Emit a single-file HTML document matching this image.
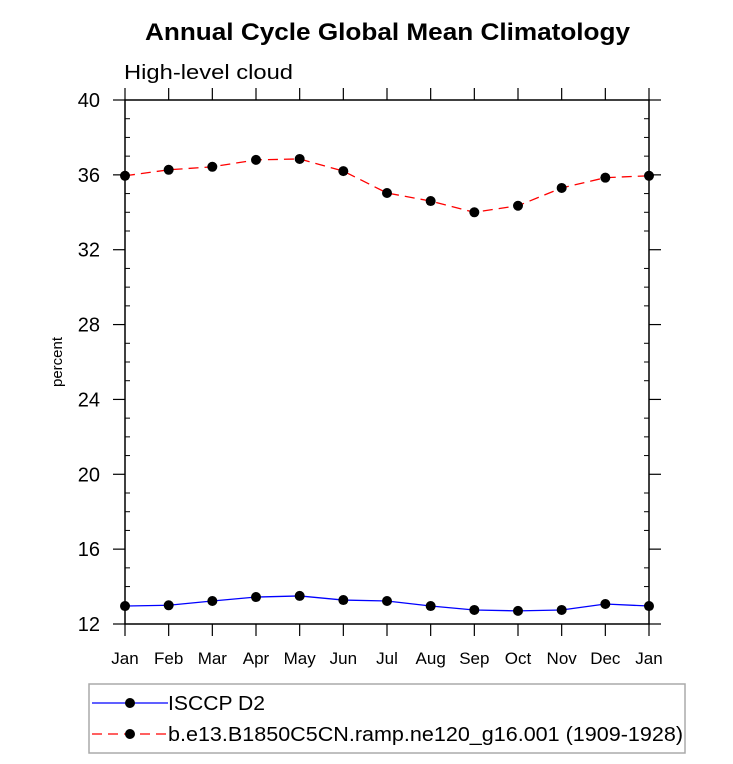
<!DOCTYPE html>
<html><head><meta charset="utf-8"><style>
body{margin:0;background:#fff;}
svg text{font-family:"Liberation Sans",sans-serif;}
</style></head><body>
<svg id="chart" width="733" height="759" xmlns="http://www.w3.org/2000/svg">
<text x="145" y="40" font-size="24" font-weight="bold" textLength="485" lengthAdjust="spacingAndGlyphs">Annual Cycle Global Mean Climatology</text>
<text x="124" y="79" font-size="20" textLength="169" lengthAdjust="spacingAndGlyphs">High-level cloud</text>
<text transform="translate(62,362) rotate(-90)" text-anchor="middle" font-size="15">percent</text>
<g id="axes"></g>
<g id="series"></g>
<g>
<rect x="89" y="684" width="596" height="69" fill="none" stroke="#aaa" stroke-width="1.5"/>
<g>
<line x1="92" y1="703" x2="168" y2="703" stroke="#0000ff" stroke-width="1.3"/>
<circle cx="130" cy="703" r="5" fill="#000"/>
<text x="168" y="710" font-size="20" textLength="97" lengthAdjust="spacingAndGlyphs">ISCCP D2</text></g>
<g>
<line x1="92" y1="734" x2="168" y2="734" stroke="#ff0000" stroke-width="1.3" stroke-dasharray="10,6"/>
<circle cx="130" cy="734" r="5" fill="#000"/>
<text x="168" y="741" font-size="20" textLength="515" lengthAdjust="spacingAndGlyphs">b.e13.B1850C5CN.ramp.ne120_g16.001 (1909-1928)</text></g>
</g>
</svg>
<script>
const months=["Jan","Feb","Mar","Apr","May","Jun","Jul","Aug","Sep","Oct","Nov","Dec","Jan"];
const isccp=[12.96,13.0,13.23,13.44,13.5,13.28,13.23,12.96,12.75,12.7,12.75,13.07,12.96];
const model=[35.95,36.27,36.43,36.8,36.85,36.2,35.03,34.6,34.0,34.35,35.3,35.85,35.95];
const yTicks=[12,16,20,24,28,32,36,40];
const NS="http://www.w3.org/2000/svg";
const L=125,R=649,T=100,B=624,yMin=12,yMax=40;
const xs=i=>L+(R-L)*i/(months.length-1);
const ys=v=>B-(B-T)*(v-yMin)/(yMax-yMin);
function mk(tag,attrs,parent){const e=document.createElementNS(NS,tag);for(const k in attrs)e.setAttribute(k,attrs[k]);parent.appendChild(e);return e;}
const ax=document.getElementById('axes');
const frame=mk('rect',{x:L,y:T,width:R-L,height:B-T,fill:'none',stroke:'#000','stroke-width':1.5},ax);


for(let v=yMin;v<=yMax;v++){
  const y=ys(v);
  if(v%4===0){
    mk('line',{x1:L-12,y1:y,x2:L,y2:y,stroke:'#000','stroke-width':1.2},ax);
    mk('line',{x1:R,y1:y,x2:R+12,y2:y,stroke:'#000','stroke-width':1.2},ax);
  }else{
    mk('line',{x1:L,y1:y,x2:L+5,y2:y,stroke:'#000','stroke-width':1},ax);
    mk('line',{x1:R-5,y1:y,x2:R,y2:y,stroke:'#000','stroke-width':1},ax);
  }
}
yTicks.forEach(v=>{
  const t=mk('text',{x:L-25,y:ys(v)+7,'text-anchor':'end','font-size':20},ax);
  t.textContent=v;
  
  
});
months.forEach((m,i)=>{
  const x=xs(i);
  mk('line',{x1:x,y1:B,x2:x,y2:B+12,stroke:'#000','stroke-width':1.2},ax);
  mk('line',{x1:x,y1:T-12,x2:x,y2:T,stroke:'#000','stroke-width':1.2},ax);
  const t=mk('text',{x:x,y:B+40,'text-anchor':'middle','font-size':17},ax);
  t.textContent=m;
  
  
});
const sg=document.getElementById('series');
function draw(data,color,dash,name){
  const g=mk('g',{},sg);
  
  
  const p=mk('polyline',{points:data.map((v,i)=>xs(i)+','+ys(v)).join(' '),fill:'none',stroke:color,'stroke-width':1.3},g);
  if(dash)p.setAttribute('stroke-dasharray',dash);
  data.forEach((v,i)=>{
    const c=mk('circle',{cx:xs(i),cy:ys(v),r:5,fill:'#000'},g);
    
    
  });
}
draw(isccp,'#0000ff',null,'isccp-series');
draw(model,'#ff0000','10,6','model-series');
</script>
</body></html>
